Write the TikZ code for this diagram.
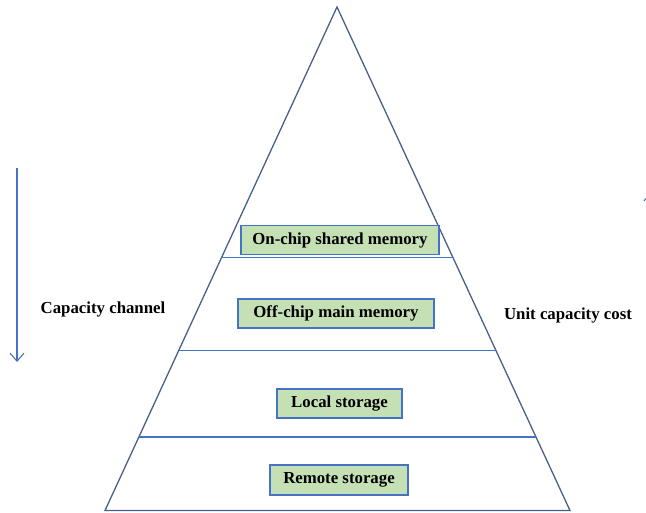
\documentclass[tikz,border=0pt]{standalone}
\usepackage{fontspec}
\setmainfont{Liberation Serif}
\usetikzlibrary{calc,arrows.meta}
\definecolor{edgeblue}{RGB}{72,96,140}
\definecolor{lineblue}{RGB}{68,114,196}
\definecolor{boxgreen}{RGB}{197,224,180}
\tikzset{
	layerbox/.style={draw=lineblue, fill=boxgreen, line width=1.1pt, minimum height=29pt, inner sep=0pt, font=\fontsize{16.8}{20}\selectfont\bfseries},
	sidelabel/.style={font=\fontsize{16.8}{20}\selectfont\bfseries}
}

\begin{document}
\begin{tikzpicture}[x=1pt, y=-1pt, >={Straight Barb[length=8pt,width=14pt]}]
	\useasboundingbox (0,0) rectangle (646,513);
	% pyramid outline
	\coordinate (apex) at (337,7);
	\coordinate (bl) at (105,510.5);
	\coordinate (br) at (570,510.5);
	\draw[edgeblue, line width=1.3pt] (bl) -- (apex) -- (br) -- cycle;
	% layer dividers
	\foreach \t/\nm in {0.498/a, 0.683/b, 0.854/c} {
		\coordinate (l\nm) at ($(apex)!\t!(bl)$);
		\coordinate (r\nm) at ($(apex)!\t!(br)$);
		\draw[lineblue, line width=1.1pt] (l\nm) -- (r\nm);
	}
	% layers
	\node[layerbox, minimum width=198pt] (onchip) at (340,240) {On-chip shared memory};
	\node[layerbox, minimum width=196pt] (offchip) at (336,313.5) {Off-chip main memory};
	\node[layerbox, minimum width=125pt] (local) at (339.5,403.5) {Local storage};
	\node[layerbox, minimum width=138pt, minimum height=30pt] (remote) at (339,480) {Remote storage};
	% side labels and arrows
	\node[sidelabel] (capacity) at (103,309) {Capacity channel};
	\node[sidelabel] (cost) at (568,315) {Unit capacity cost};
	\coordinate (captop) at (17,168);
	\coordinate (capbot) at (17,362);
	\draw[->, lineblue, line width=1.1pt] (captop) -- (capbot);
	\coordinate (costbot) at (651,362);
	\coordinate (costtop) at (651,192);
	\draw[->, lineblue, line width=1.1pt] (costbot) -- (costtop);
\end{tikzpicture}
\end{document}
